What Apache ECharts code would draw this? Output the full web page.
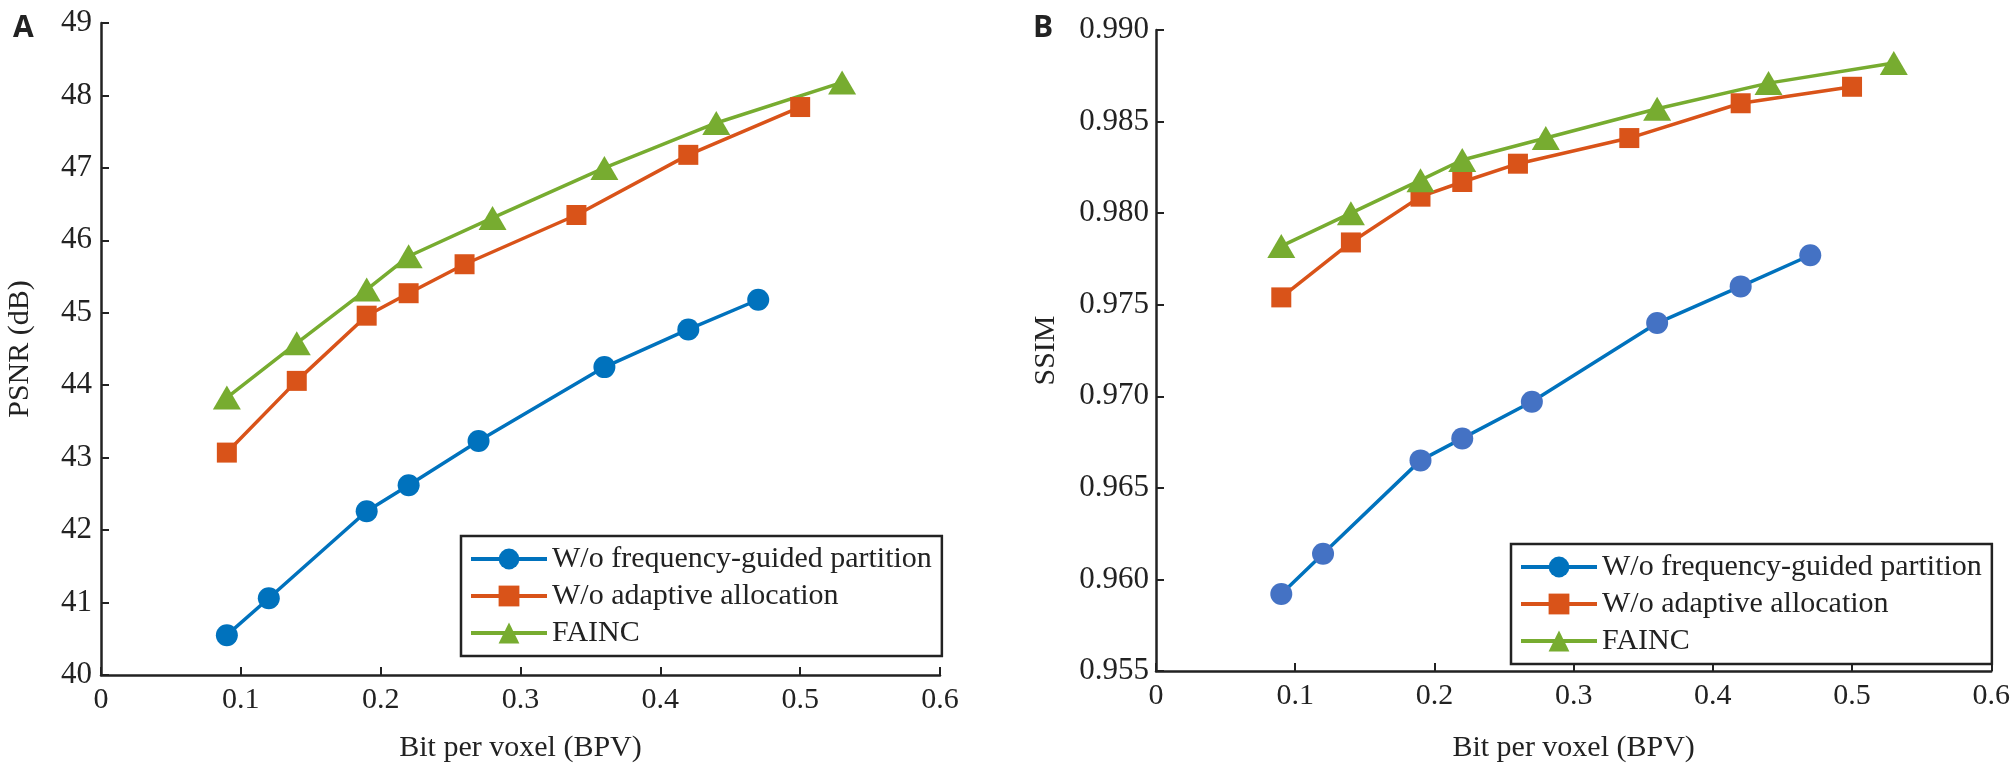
<!DOCTYPE html>
<html>
	<head>
		<meta charset="UTF-8">
		<title>Ablation</title>
		<script type="text/javascript" src="https://cdn.jsdelivr.net/npm/echarts@6/dist/echarts.min.js"></script>
		<style>
			html, body { margin: 0; padding: 0; background: #fff; }
			#main { width: 2013px; height: 768px; }
		</style>
	</head>
	<body>
		<div id="main"></div>
		<script>
		// x (BPV) of each curve
		var bpvFreq = [0.09, 0.12, 0.19, 0.22, 0.27, 0.36, 0.42, 0.47];
		var bpvAlloc = [0.09, 0.14, 0.19, 0.22, 0.26, 0.34, 0.42, 0.50];
		var bpvFainc = [0.09, 0.14, 0.19, 0.22, 0.28, 0.36, 0.44, 0.53];
		// A: PSNR
		var psnrFreq = [40.55, 41.06, 42.26, 42.62, 43.23, 44.25, 44.77, 45.18];
		var psnrAlloc = [43.07, 44.06, 44.96, 45.27, 45.67, 46.35, 47.18, 47.84];
		var psnrFainc = [43.83, 44.58, 45.32, 45.78, 46.31, 47.00, 47.62, 48.18];
		// B: SSIM
		var ssimFreq = [0.9592, 0.9614, 0.9665, 0.9677, 0.9697, 0.9740, 0.9760, 0.9777];
		var ssimAlloc = [0.9754, 0.9784, 0.9809, 0.9817, 0.9827, 0.9841, 0.9860, 0.9869];
		var ssimFainc = [0.9782, 0.9800, 0.9818, 0.9829, 0.9841, 0.9857, 0.9871, 0.9882];
		var names = ['W/o frequency-guided partition', 'W/o adaptive allocation', 'FAINC'];

		function pairs(xs, ys) {
			var out = [];
			for (var i = 0; i < xs.length; i++) out.push([xs[i], ys[i]]);
			return out;
		}

		var serif = 'Liberation Serif';
		var blue = '#0072BD', orange = '#D95319', green = '#77AC30';

		function xAx(idx) {
			return {
				gridIndex: idx, type: 'value', min: 0, max: 0.6, interval: 0.1,
				name: 'Bit per voxel (BPV)', nameLocation: 'middle', nameGap: idx == 0 ? 58 : 62,
				nameTextStyle: { fontFamily: serif, fontSize: 30, color: '#222' },
				axisLine: { lineStyle: { color: '#222', width: 2.5 } },
				axisTick: { inside: true, length: 8, lineStyle: { color: '#222', width: 2 } },
				axisLabel: { fontFamily: serif, fontSize: 30, color: '#222', margin: 10 },
				splitLine: { show: false }
			};
		}

		function line(name, xi, data, color, symbol, size, markColor) {
			return {
				name: name, type: 'line', xAxisIndex: xi, yAxisIndex: xi,
				data: data, symbol: symbol, symbolSize: size, showSymbol: true,
				lineStyle: { color: color, width: 3.5 },
				itemStyle: { color: markColor || color },
				z: 3
			};
		}

		function legendAt(left, top) {
			return {
				data: names, orient: 'vertical', left: left, top: top,
				itemWidth: 76, itemHeight: 26, itemGap: 7,
				padding: [8, 10, 8, 8],
				borderColor: '#222', borderWidth: 2.5, backgroundColor: '#fff',
				lineStyle: { width: 4 },
				textStyle: { fontFamily: serif, fontSize: 30, color: '#222' },
				selectedMode: false
			};
		}

		var chart = echarts.init(document.getElementById('main'));
		chart.setOption({
			animation: false,
			backgroundColor: '#fff',
			title: [
				{ text: 'A', left: 8, top: 8, textStyle: { fontFamily: 'Open Sans', fontWeight: 'bold', fontSize: 30, color: '#222' } },
				{ text: 'B', left: 1028, top: 8, textStyle: { fontFamily: 'Open Sans', fontWeight: 'bold', fontSize: 30, color: '#222' } }
			],
			legend: [legendAt(461, 536), legendAt(1511, 544)],
			grid: [
				{ left: 101, right: 1073, top: 23, bottom: 92 },
				{ left: 1156, right: 16, top: 30, bottom: 85 }
			],
			xAxis: [xAx(0), xAx(1)],
			yAxis: [
				{
					gridIndex: 0, type: 'value', min: 40, max: 49, interval: 1,
					name: 'PSNR (dB)', nameLocation: 'middle', nameGap: 66,
					nameTextStyle: { fontFamily: serif, fontSize: 30, color: '#222' },
					axisLine: { show: true, lineStyle: { color: '#222', width: 2.5 } },
					axisTick: { show: true, inside: true, length: 8, lineStyle: { color: '#222', width: 2 } },
					axisLabel: { fontFamily: serif, fontSize: 31, color: '#222', margin: 9 },
					splitLine: { show: false }
				},
				{
					gridIndex: 1, type: 'value', min: 0.955, max: 0.99, interval: 0.005,
					name: 'SSIM', nameLocation: 'middle', nameGap: 95,
					nameTextStyle: { fontFamily: serif, fontSize: 30, color: '#222' },
					axisLine: { show: true, lineStyle: { color: '#222', width: 2.5 } },
					axisTick: { show: true, inside: true, length: 8, lineStyle: { color: '#222', width: 2 } },
					axisLabel: { fontFamily: serif, fontSize: 31, color: '#222', margin: 7,
						formatter: function (v) { return v.toFixed(3); } },
					splitLine: { show: false }
				}
			],
			series: [
				line(names[0], 0, pairs(bpvFreq, psnrFreq), blue, 'circle', 22),
				line(names[1], 0, pairs(bpvAlloc, psnrAlloc), orange, 'rect', 20),
				line(names[2], 0, pairs(bpvFainc, psnrFainc), green, 'triangle', [28, 24]),
				line(names[0], 1, pairs(bpvFreq, ssimFreq), blue, 'circle', 22, '#4472C4'),
				line(names[1], 1, pairs(bpvAlloc, ssimAlloc), orange, 'rect', 20),
				line(names[2], 1, pairs(bpvFainc, ssimFainc), green, 'triangle', [28, 24])
			]
		});
		</script>
	</body>
</html>
